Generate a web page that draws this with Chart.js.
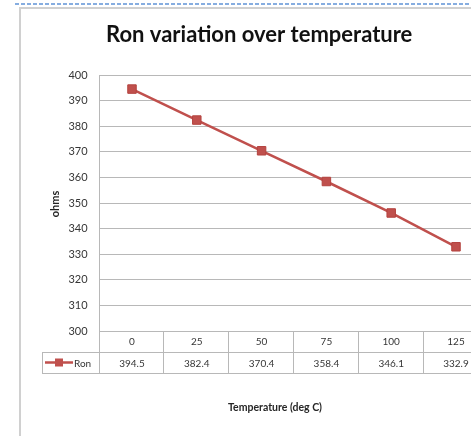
<!DOCTYPE html>
<html><head><meta charset="utf-8">
<script src="https://cdn.jsdelivr.net/npm/chart.js@4"></script>
<style>
html,body{margin:0;padding:0;width:471px;height:436px;overflow:hidden;background:#fff;}
#dash{position:absolute;left:15px;top:3px;width:456px;height:2px;background:repeating-linear-gradient(90deg,#86ade0 0 4px,transparent 4px 6px);}
#frame{position:absolute;left:19px;top:7px;width:470px;height:440px;border-left:2px solid #d0d0d0;border-top:2px solid #d0d0d0;}
#wrap{position:absolute;left:0;top:0;width:520px;height:436px;}
</style></head><body>
<div id="dash"></div><div id="frame"></div>
<div id="wrap"><canvas id="c" width="520" height="436"></canvas></div>
<script>
const categories = ['0', '25', '50', '75', '100', '125'];
const ronValues = [394.5, 382.4, 370.4, 358.4, 346.1, 332.9];
const seriesName = 'Ron';
const yMin = 300, yMax = 400, yStep = 10;
const chartTitle = 'Ron variation over temperature';
const xTitle = 'Temperature (deg C)';
const yTitle = 'ohms';

const RED = '#C0504D';
const GRID = '#b8b8b8';
const TXT = '#363636';
const FONT = 'Lato, "Open Sans", sans-serif';

const tablePlugin = {
  id: 'tablePlugin',
  afterDraw(chart) {
    const ctx = chart.ctx, ca = chart.chartArea, xs = chart.scales.x;
    const n = categories.length;
    const cw = (xs.getPixelForValue(1) - xs.getPixelForValue(0));
    const rowH = 21;
    const top = ca.bottom, mid = ca.bottom + rowH, bot = ca.bottom + 2 * rowH;
    const legLeft = 42;
    ctx.save();
    ctx.strokeStyle = GRID; ctx.lineWidth = 1;
    ctx.beginPath();
    ctx.moveTo(legLeft, Math.round(mid) + 0.5); ctx.lineTo(ca.right, Math.round(mid) + 0.5);
    ctx.moveTo(legLeft, Math.round(bot) + 0.5); ctx.lineTo(ca.right, Math.round(bot) + 0.5);
    ctx.moveTo(legLeft + 0.5, Math.round(mid)); ctx.lineTo(legLeft + 0.5, Math.round(bot) + 1);
    for (let k = 0; k <= n; k++) {
      const xx = Math.round(ca.left + k * cw) - 0.5;
      ctx.moveTo(xx, Math.round(top)); ctx.lineTo(xx, Math.round(bot) + 1);
    }
    ctx.stroke();
    // data row
    ctx.fillStyle = TXT; ctx.font = '10px ' + FONT;
    ctx.textAlign = 'center'; ctx.textBaseline = 'middle';
    const ry = (mid + bot) / 2 + 1;
    ronValues.forEach((v, i) => ctx.fillText(v.toFixed(1), xs.getPixelForValue(i), ry));
    // legend key
    ctx.strokeStyle = RED; ctx.lineWidth = 2.5;
    ctx.beginPath(); ctx.moveTo(45, ry - 1); ctx.lineTo(73, ry - 1); ctx.stroke();
    ctx.fillStyle = RED; ctx.fillRect(55, ry - 5, 8, 8);
    ctx.fillStyle = TXT; ctx.textAlign = 'left';
    ctx.fillText(seriesName, 74, ry);
    // axis titles
    ctx.fillStyle = '#262626';
    ctx.font = 'bold 10.5px ' + FONT; ctx.textAlign = 'center';
    ctx.fillText(xTitle, 275, 408);
    ctx.save();
    ctx.translate(55, 204); ctx.rotate(-Math.PI / 2);
    ctx.font = 'bold 11px ' + FONT;
    ctx.fillText(yTitle, 0, 0);
    ctx.restore();
    ctx.restore();
  }
};

new Chart(document.getElementById('c'), {
  type: 'line',
  data: {
    labels: categories,
    datasets: [{
      label: seriesName,
      data: ronValues,
      borderColor: RED,
      borderWidth: 2.5,
      pointStyle: 'rect',
      pointRadius: 6,
      pointBackgroundColor: RED,
      pointBorderColor: '#b4433f',
      pointBorderWidth: 1,
      tension: 0
    }]
  },
  options: {
    responsive: false,
    animation: false,
    devicePixelRatio: 1,
    layout: { padding: { left: 30, right: 31.6, top: 0, bottom: 0 } },
    plugins: {
      legend: { display: false },
      tooltip: { enabled: false },
      title: {
        display: true,
        text: chartTitle,
        color: '#111',
        font: { family: FONT, size: 22, weight: 'bold', lineHeight: 1.2 },
        padding: { top: 21.8, bottom: 26.8 }
      }
    },
    scales: {
      x: {
        type: 'category',
        offset: true,
        grid: { display: false, drawTicks: false },
        border: { display: false },
        ticks: { color: TXT, font: { family: FONT, size: 10 }, padding: 5, maxRotation: 0, autoSkip: false },
        afterFit(s) { s.height = 105; }
      },
      y: {
        min: yMin, max: yMax,
        grid: { color: GRID, lineWidth: 1, drawTicks: false },
        border: { display: true, color: GRID, width: 1 },
        ticks: { stepSize: yStep, color: TXT, font: { family: FONT, size: 11 }, padding: 12 },
        afterFit(s) { s.width = 69.6; }
      }
    }
  },
  plugins: [tablePlugin]
});
</script>
</body></html>
